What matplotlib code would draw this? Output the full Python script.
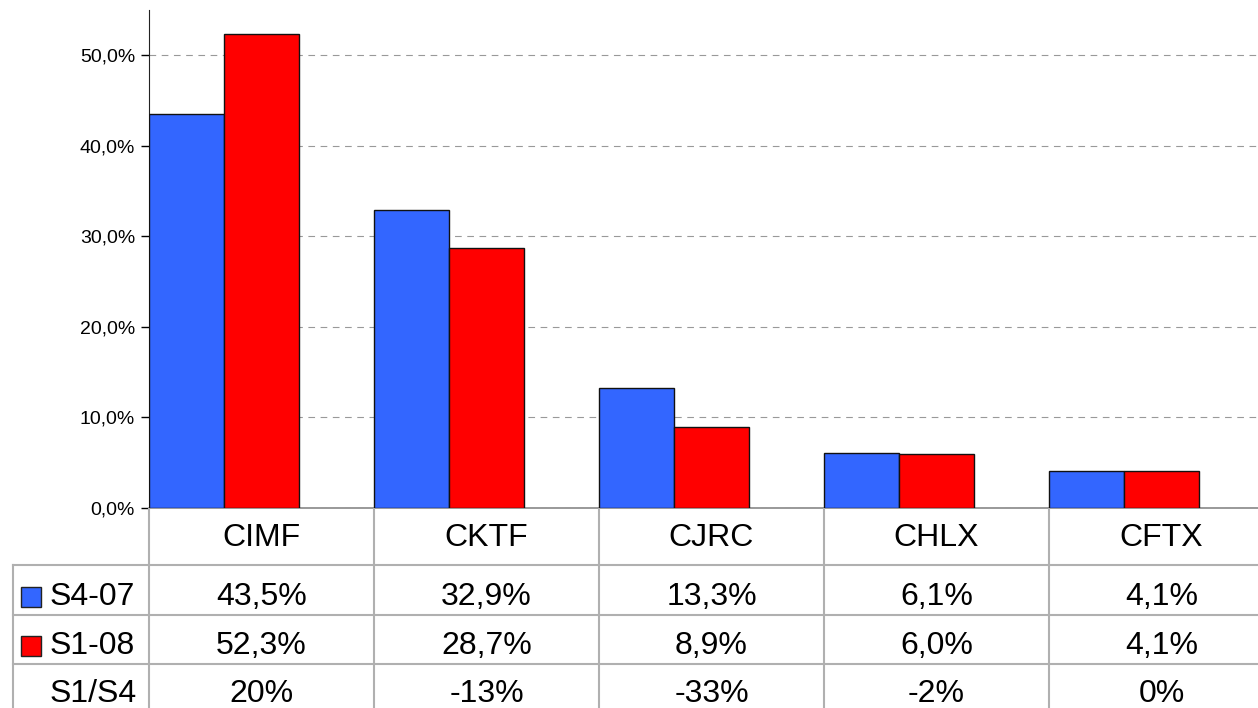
import matplotlib
matplotlib.use("Agg")
import matplotlib.pyplot as plt
from matplotlib.patches import Rectangle

plt.rcParams["font.family"] = ["Liberation Sans", "DejaVu Sans"]

# data
categories = ["CIMF", "CKTF", "CJRC", "CHLX", "CFTX"]
s4_07 = [43.5, 32.9, 13.3, 6.1, 4.1]
s1_08 = [52.3, 28.7, 8.9, 6.0, 4.1]
ratio = ["20%", "-13%", "-33%", "-2%", "0%"]
series_names = ["S4-07", "S1-08", "S1/S4"]
yticks = [0, 10, 20, 30, 40, 50]

blue = "#3366ff"
red = "#ff0000"
grid_col = "#b0b0b0"

W, H = 1258, 708
fig = plt.figure(figsize=(W / 100, H / 100), dpi=100)

# main axes: spans x 149..1274 px, y 10..508 px
x0, colw = 149, 225
ax = fig.add_axes([x0 / W, (H - 508) / H, 5 * colw / W, (508 - 10) / H])
ax.set_xlim(-0.5, 4.5)
ax.set_ylim(0, 55)

idx = list(range(len(categories)))
bw = 1 / 3
ax.bar([i - 0.5 + bw / 2 for i in idx], s4_07, width=bw, color=blue,
       edgecolor="#111111", linewidth=1, zorder=3)
ax.bar([i - 0.5 + 1.5 * bw for i in idx], s1_08, width=bw, color=red,
       edgecolor="#111111", linewidth=1, zorder=3)

ax.set_yticks(yticks)
ax.set_yticklabels([f"{v:.1f}%".replace(".", ",") for v in yticks], fontsize=14)
ax.tick_params(axis="y", length=6, width=1, pad=4)
ax.set_xticks([])
ax.yaxis.grid(True, linestyle=(0, (6, 5)), color="#999999", linewidth=0.8, zorder=0)
for s in ["top", "right"]:
    ax.spines[s].set_visible(False)
ax.spines["left"].set_color("#222222")
ax.spines["bottom"].set_color("#888888")
ax.spines["bottom"].set_linewidth(1.2)

# data table below, in pixel coordinates
tb = fig.add_axes([0, 0, 1, (H - 508) / H])
tb.set_xlim(0, W)
tb.set_ylim(200, 0)
tb.axis("off")

row_lines = [57, 107, 156]
for y in row_lines:
    tb.plot([13, W], [y, y], color=grid_col, lw=1.5, clip_on=False)
for i in range(len(categories) + 1):
    xe = x0 + i * colw
    tb.plot([xe, xe], [0, 200], color=grid_col, lw=1.5)
tb.plot([13, 13], [57, 200], color=grid_col, lw=1.5)

fs = 23
row_y = [89, 138, 186]
for i, c in enumerate(categories):
    xc = x0 + (i + 0.5) * colw
    tb.text(xc, 30, c, ha="center", va="center", fontsize=fs)
    tb.text(xc, row_y[0], f"{s4_07[i]:.1f}%".replace(".", ","), ha="center", va="center", fontsize=fs)
    tb.text(xc, row_y[1], f"{s1_08[i]:.1f}%".replace(".", ","), ha="center", va="center", fontsize=fs)
    tb.text(xc, row_y[2], ratio[i], ha="center", va="center", fontsize=fs)

for name, y, col in zip(series_names, row_y, [blue, red, None]):
    tb.text(50, y, name, ha="left", va="center", fontsize=fs)
    if col:
        tb.add_patch(Rectangle((21, y - 10), 20, 20, facecolor=col, edgecolor="#222222", lw=1))

fig.savefig("out.png", dpi=100)
